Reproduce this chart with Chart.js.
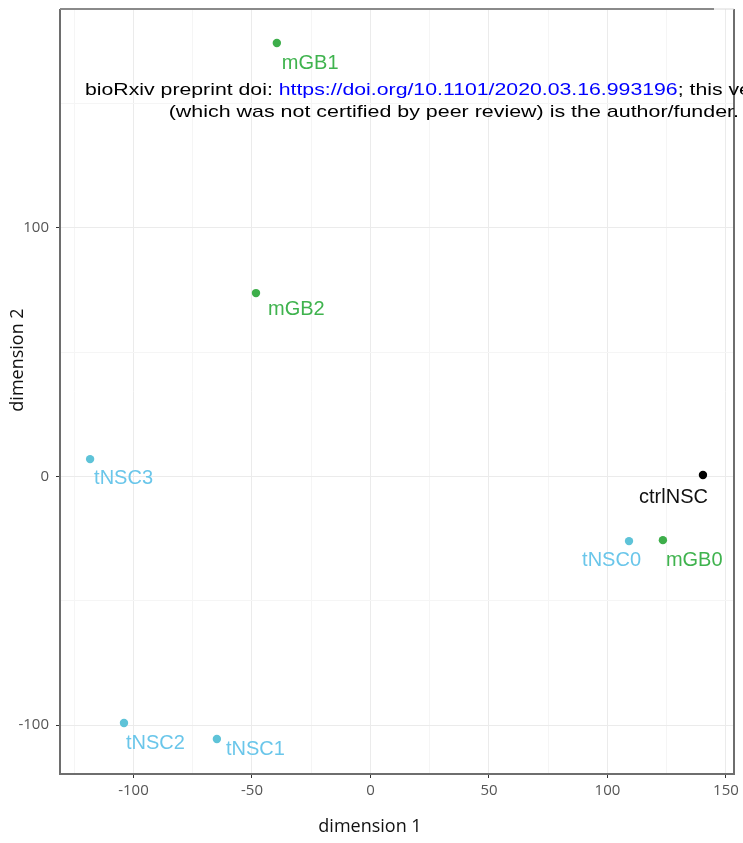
<!DOCTYPE html>
<html>
<head>
<meta charset="utf-8">
<script src="https://cdn.jsdelivr.net/npm/chart.js@4"></script>
<style>
  html, body { margin: 0; padding: 0; background: #fff; }
  #wrap { width: 743px; height: 843px; position: relative; }
</style>
</head>
<body>
<div id="wrap"><canvas id="mds"></canvas></div>
<script>
/* MDS plot — samples in dimension 1 / dimension 2 */

const sampleNames = ['mGB1', 'mGB2', 'tNSC3', 'ctrlNSC', 'tNSC0', 'mGB0', 'tNSC2', 'tNSC1'];
const sampleGroup = ['mGB', 'mGB', 'tNSC', 'ctrl', 'tNSC', 'mGB', 'tNSC', 'tNSC'];
const dim1 = [-39.5, -48.3, -118.3, 140.3, 109.1, 123.4, -104.0, -64.8];
const dim2 = [174.4, 73.8, 7.0, 0.6, -26.0, -25.6, -99.2, -105.6];

const groups = ['mGB', 'tNSC', 'ctrl'];
const xTicks = [-100, -50, 0, 50, 100, 150];
const yTicks = [-100, 0, 100];
const xMinor = [-125, -75, -25, 25, 75, 125];
const yMinor = [-50, 50, 150];

/* 樣式 */
const pointColor = { mGB: '#3dae4a', tNSC: '#5ec3d8', ctrl: '#000000' };
const labelColor = { mGB: '#3fb34e', tNSC: '#6ac6ea', ctrl: '#111111' };
// label nudge in px from the point: [dx, dy, align]
const labelNudge = [
  [5, 20, 'left'], [12, 16, 'left'], [4, 19, 'left'], [5, 22, 'right'],
  [12, 19, 'right'], [3, 20, 'left'], [2, 20, 'left'], [9, 11, 'left'],
];

const GRID_MAJOR = '#ebebeb';
const GRID_MINOR = '#f5f5f5';

const datasets = groups.map(g => {
  const idx = sampleNames.map((_, i) => i).filter(i => sampleGroup[i] === g);
  return {
    label: g,
    data: idx.map(i => ({ x: dim1[i], y: dim2[i], name: sampleNames[i], k: i })),
    backgroundColor: pointColor[g],
    borderColor: pointColor[g],
    pointRadius: 4.2,
    pointHoverRadius: 4.2,
    borderWidth: 0,
  };
});

function isMajor(v, step) { return Math.abs(v % step) < 1e-9; }

/* 文字橫向縮放後繪製 */
function stretchText(ctx, parts, x, y, sx) {
  ctx.save();
  ctx.translate(x, y);
  ctx.scale(sx, 1);
  let cx = 0;
  parts.forEach(([t, c]) => {
    ctx.fillStyle = c;
    ctx.fillText(t, cx, 0);
    cx += ctx.measureText(t).width;
  });
  ctx.restore();
}

const labelPlugin = {
  id: 'pointLabels',
  afterDatasetsDraw(chart) {
    const ctx = chart.ctx;
    ctx.save();
    ctx.font = '20px "Liberation Sans", Arial, sans-serif';
    ctx.textBaseline = 'middle';
    chart.data.datasets.forEach((ds, di) => {
      const meta = chart.getDatasetMeta(di);
      meta.data.forEach((pt, j) => {
        const d = ds.data[j];
        const [dx, dy, align] = labelNudge[d.k];
        ctx.fillStyle = labelColor[ds.label];
        ctx.textAlign = align;
        ctx.fillText(d.name, pt.x + dx, pt.y + dy);
      });
    });
    ctx.restore();
  },
};

const framePlugin = {
  id: 'frame',
  afterDraw(chart) {
    const { ctx, chartArea: a } = chart;
    ctx.save();
    // panel border
    ctx.strokeStyle = '#6e6e6e';
    ctx.lineWidth = 2;
    ctx.beginPath();
    ctx.moveTo(a.left, a.top); ctx.lineTo(a.left, a.bottom); ctx.lineTo(a.right, a.bottom);
    ctx.lineTo(a.right, a.top);
    ctx.stroke();
    ctx.beginPath();
    ctx.strokeStyle = '#8a8a8a';
    ctx.moveTo(a.left, a.top); ctx.lineTo(714, a.top);
    ctx.stroke();
    ctx.beginPath();
    ctx.strokeStyle = '#d8d8d8';
    ctx.lineWidth = 1;
    ctx.moveTo(714, a.top); ctx.lineTo(a.right, a.top);
    ctx.stroke();

    // axis titles
    ctx.fillStyle = '#111';
    ctx.font = '18px "Open Sans", sans-serif';
    ctx.textAlign = 'center';
    ctx.textBaseline = 'middle';
    ctx.fillText('dimension 1', 370, 827);
    ctx.save();
    ctx.translate(18, 360);
    ctx.rotate(-Math.PI / 2);
    ctx.fillText('dimension 2', 0, 0);
    ctx.restore();

    // bioRxiv watermark
    ctx.font = '17px "Liberation Sans", Arial, sans-serif';
    ctx.textAlign = 'left';
    ctx.textBaseline = 'alphabetic';
    stretchText(ctx, [
      ['bioRxiv preprint doi: ', '#000'],
      ['https://doi.org/10.1101/2020.03.16.993196', '#0000ff'],
      ['; this version', '#000'],
    ], 85, 95, 1.25);
    const line2 = '(which was not certified by peer review) is the author/funder.';
    const w2 = ctx.measureText(line2).width;
    const sx2 = 1.26;
    stretchText(ctx, [[line2 + ' All rights reserved.', '#000']], 739 - w2 * sx2, 117, sx2);
    ctx.restore();
  },
};

new Chart(document.getElementById('mds'), {
  type: 'scatter',
  data: { datasets },
  options: {
    responsive: true, maintainAspectRatio: false, animation: false,
    layout: { padding: { top: 9, right: 9, left: 0, bottom: 0 } },
    plugins: { legend: { display: false }, tooltip: { enabled: false } },
    scales: {
      x: {
        type: 'linear', min: -131, max: 153.4,
        afterBuildTicks: s => { s.ticks = [...xTicks, ...xMinor].sort((a, b) => a - b).map(v => ({ value: v })); },
        afterFit: s => { s.height = 69; s.paddingLeft = 0; s.paddingRight = 0; },
        border: { display: false },
        grid: {
          color: c => isMajor(c.tick.value, 50) ? GRID_MAJOR : GRID_MINOR,
          tickColor: c => isMajor(c.tick.value, 50) ? '#333' : 'rgba(0,0,0,0)',
          tickLength: 4, lineWidth: 1,
        },
        ticks: {
          autoSkip: false, maxRotation: 0, padding: 4,
          color: '#555', font: { family: '"Open Sans", sans-serif', size: 15 },
          callback: v => xTicks.includes(v) ? String(v) : '',
        },
      },
      y: {
        type: 'linear', min: -119.7, max: 188.1,
        afterBuildTicks: s => { s.ticks = [...yTicks, ...yMinor].sort((a, b) => a - b).map(v => ({ value: v })); },
        afterFit: s => { s.width = 60; s.paddingTop = 0; s.paddingBottom = 0; },
        border: { display: false },
        grid: {
          color: c => isMajor(c.tick.value, 100) ? GRID_MAJOR : GRID_MINOR,
          tickColor: c => isMajor(c.tick.value, 100) ? '#333' : 'rgba(0,0,0,0)',
          tickLength: 4, lineWidth: 1,
        },
        ticks: {
          autoSkip: false, padding: 7,
          color: '#555', font: { family: '"Open Sans", sans-serif', size: 15 },
          callback: v => yTicks.includes(v) ? String(v) : '',
        },
      },
    },
  },
  plugins: [labelPlugin, framePlugin],
});
</script>
</body>
</html>
